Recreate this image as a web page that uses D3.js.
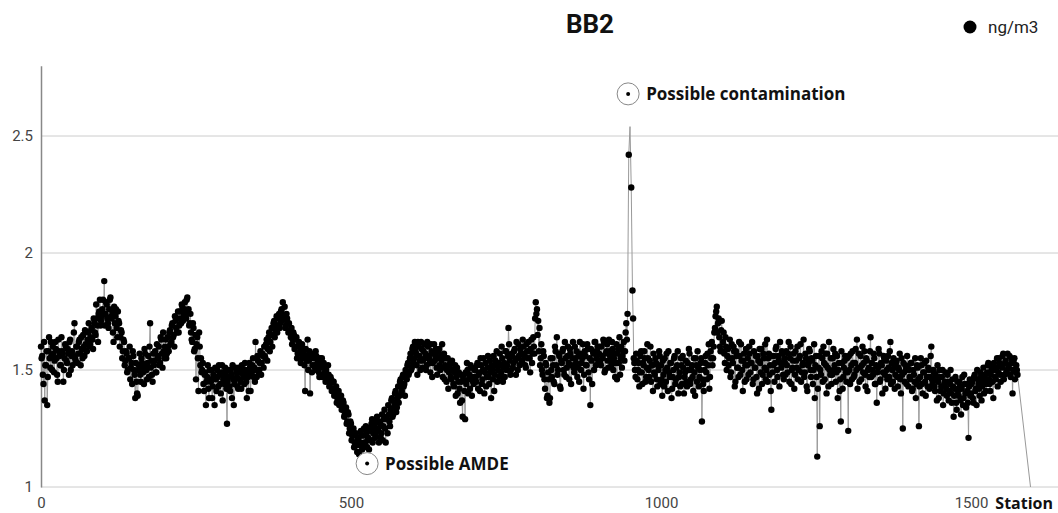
<!DOCTYPE html>
<html><head><meta charset="utf-8">
<script src="https://cdn.jsdelivr.net/npm/d3@7"></script>
<style>html,body{margin:0;padding:0;background:#fff;}svg{display:block;}</style>
</head><body><svg id="c" width="1058" height="513"></svg>
<script>
// BB2 concentration (ng/m3). Each segment covers 100 stations.
// "even" segments hold stations seg*100 + 0,2,4,...; "odd" segments hold seg*100 + 1,3,5,...
// null = no record at that station
const even00 = [1.60,1.56,1.44,1.37,1.52,1.35,1.58,1.55,1.62,1.50,1.57,1.54,1.59,1.48,1.63,1.56,1.52,1.58,1.45,1.55,1.60,1.53,1.57,1.62,1.50,1.58,1.56,1.70,1.54,1.60,1.57,1.63,1.52,1.59,1.65,1.56,1.61,1.58,1.66,1.60,1.64,1.68,1.59,1.70,1.65,1.72,1.62,1.75,1.69,1.73];
const even01 = [1.80,1.88,1.74,1.78,1.70,1.76,1.81,1.72,1.66,1.77,1.73,1.68,1.75,1.70,1.64,1.66,1.58,1.62,1.54,1.57,1.50,1.55,1.46,1.53,1.58,1.50,1.38,1.45,1.39,1.52,1.48,1.55,1.51,1.44,1.57,1.50,1.53,1.47,1.70,1.54,1.45,1.52,1.58,1.49,1.56,1.60,1.53,1.63,1.51,1.58];
const even02 = [1.60,1.55,1.64,1.58,1.67,1.62,1.70,1.65,1.73,1.68,1.72,1.66,1.75,1.70,1.77,1.74,1.79,1.72,1.81,1.76,1.70,1.66,1.62,1.68,1.59,1.46,1.64,1.41,1.60,1.55,1.50,1.44,1.48,1.35,1.47,1.42,1.50,1.45,1.38,1.48,1.35,1.46,1.50,1.43,1.48,1.40,1.52,1.46,1.44,1.49];
const even03 = [1.27,1.47,1.43,1.50,1.38,1.46,1.44,1.51,1.47,1.42,1.49,1.45,1.52,1.48,1.44,1.50,1.38,1.47,1.53,1.41,1.49,1.55,1.51,1.62,1.47,1.54,1.50,1.58,1.53,1.56,1.60,1.55,1.63,1.59,1.66,1.62,1.68,1.65,1.71,1.67,1.73,1.69,1.74,1.70,1.76,1.79,1.72,1.68,1.74,1.70];
const even04 = [1.70,1.66,1.68,1.63,1.65,1.60,1.64,1.57,1.62,1.58,1.60,1.55,1.58,1.41,1.56,1.63,1.54,1.40,1.57,1.52,1.55,1.51,1.56,1.53,1.49,1.55,1.51,1.47,1.53,1.49,1.50,1.46,1.48,1.44,1.46,1.42,1.45,1.40,1.43,1.38,1.41,1.37,1.39,1.34,1.36,1.31,1.34,1.28,1.31,1.25];
const even05 = [1.27,1.22,1.25,1.19,1.23,1.15,1.21,1.18,1.24,1.16,1.22,1.19,1.26,1.17,1.21,1.25,1.20,1.29,1.23,1.27,1.22,1.30,1.25,1.28,1.21,1.31,1.26,1.33,1.19,1.29,1.35,1.28,1.33,1.38,1.31,1.36,1.41,1.34,1.43,1.39,1.46,1.41,1.48,1.44,1.50,1.46,1.53,1.49,1.57,1.51];
const even06 = [1.60,1.55,1.58,1.52,1.62,1.56,1.50,1.59,1.54,1.61,1.57,1.52,1.60,1.55,1.49,1.58,1.53,1.61,1.56,1.51,1.55,1.59,1.50,1.54,1.47,1.57,1.52,1.45,1.55,1.49,1.53,1.46,1.50,1.43,1.52,1.47,1.40,1.49,1.36,1.45,1.30,1.48,1.29,1.44,1.50,1.46,1.42,1.51,1.47,1.44];
const even07 = [1.50,1.45,1.53,1.48,1.41,1.52,1.46,1.55,1.49,1.43,1.51,1.47,1.54,1.38,1.50,1.56,1.48,1.52,1.45,1.53,1.57,1.49,1.55,1.51,1.47,1.58,1.52,1.68,1.54,1.50,1.56,1.53,1.59,1.48,1.55,1.61,1.52,1.57,1.54,1.60,1.56,1.51,1.58,1.62,1.55,1.59,1.53,1.64,1.57,1.79];
const even08 = [1.76,1.71,1.68,1.55,1.50,1.58,1.46,1.53,1.38,1.49,1.36,1.55,1.47,1.52,1.44,1.58,1.64,1.50,1.56,1.42,1.53,1.59,1.48,1.55,1.51,1.60,1.46,1.57,1.52,1.62,1.49,1.55,1.58,1.51,1.45,1.57,1.53,1.61,1.48,1.56,1.52,1.59,1.46,1.35,1.54,1.58,1.50,1.62,1.55,1.60];
const even09 = [1.57,1.53,1.60,1.55,1.62,1.50,1.58,1.54,1.63,1.56,1.52,1.59,1.55,1.47,1.61,1.57,1.53,1.48,1.60,1.56,1.62,1.58,1.70,1.74,2.42,2.54,2.28,1.84,1.55,1.50,1.57,1.46,1.53,1.49,1.58,1.44,1.52,1.55,1.47,1.61,1.50,1.54,1.45,1.52,1.57,1.48,1.53,1.43,1.50,1.56];
const even10 = [1.52,1.39,1.48,1.55,1.45,1.51,1.58,1.47,1.53,1.42,1.50,1.56,1.46,1.52,1.40,1.49,1.55,1.44,1.51,1.47,1.54,1.43,1.50,1.57,1.46,1.52,1.41,1.49,1.55,1.45,1.51,1.47,1.53,1.28,1.44,1.50,1.56,1.46,1.52,1.42,1.58,1.62,1.55,1.66,1.73,1.77,1.70,1.64,1.58,1.71];
const even11 = [1.62,1.57,1.64,1.50,1.59,1.55,1.47,1.61,1.53,1.58,1.45,1.56,1.51,1.62,1.48,1.54,1.41,1.57,1.52,1.46,1.55,1.60,1.49,1.53,1.44,1.58,1.51,1.47,1.56,1.42,1.53,1.59,1.48,1.55,1.61,1.50,1.45,1.57,1.52,1.33,1.49,1.56,1.53,1.60,1.47,1.54,1.62,1.51,1.57,1.46];
const even12 = [1.53,1.58,1.49,1.62,1.55,1.44,1.51,1.57,1.48,1.54,1.60,1.50,1.56,1.45,1.52,1.63,1.49,1.55,1.41,1.53,1.58,1.47,1.54,1.50,1.38,1.56,1.13,1.51,1.26,1.48,1.55,1.60,1.46,1.52,1.57,1.43,1.50,1.55,1.48,1.59,1.52,1.45,1.56,1.50,1.41,1.28,1.53,1.47,1.54,1.49];
const even13 = [1.55,1.24,1.50,1.57,1.46,1.53,1.48,1.59,1.63,1.51,1.45,1.56,1.52,1.49,1.58,1.43,1.54,1.50,1.47,1.64,1.53,1.48,1.55,1.44,1.36,1.51,1.57,1.46,1.52,1.49,1.55,1.42,1.50,1.56,1.47,1.62,1.53,1.45,1.51,1.48,1.54,1.43,1.50,1.46,1.55,1.25,1.49,1.52,1.44,1.51];
const even14 = [1.50,1.46,1.53,1.42,1.48,1.55,1.44,1.51,1.26,1.47,1.52,1.40,1.49,1.45,1.54,1.43,1.50,1.47,1.60,1.44,1.49,1.41,1.46,1.52,1.38,1.47,1.43,1.50,1.40,1.45,1.42,1.48,1.37,1.44,1.40,1.46,1.30,1.42,1.36,1.45,1.39,1.43,1.31,1.47,1.38,1.44,1.34,1.41,1.21,1.46];
const even15 = [1.40,1.45,1.36,1.48,1.42,1.50,1.44,1.39,1.47,1.43,1.51,1.46,1.41,1.49,1.53,1.44,1.48,1.52,1.38,1.50,1.46,1.55,1.49,1.53,1.45,1.51,1.57,1.48,1.54,1.50,1.52,1.56,1.47,1.53,1.50,1.55,1.49,1.50];

const odd00 = [1.55,1.48,1.62,1.52,1.58,1.47,1.64,1.51,1.56,1.60,1.49,1.62,1.55,1.45,1.58,1.52,1.64,1.57,1.50,1.61,1.54,1.59,1.48,1.63,1.56,1.52,1.66,1.55,1.60,1.53,1.62,1.57,1.64,1.55,1.60,1.67,1.58,1.63,1.70,1.61,1.67,1.63,1.72,1.66,1.78,1.69,1.74,1.80,1.71,1.76];
const odd01 = [1.74,1.69,1.79,1.72,1.68,1.80,1.73,1.75,1.62,1.70,1.76,1.64,1.71,1.60,1.67,1.55,1.63,1.52,1.58,1.49,1.55,1.60,1.51,1.44,1.56,1.48,1.53,1.40,1.50,1.57,1.45,1.53,1.49,1.59,1.52,1.46,1.56,1.60,1.51,1.48,1.57,1.54,1.49,1.61,1.55,1.52,1.64,1.57,1.66,1.55];
const odd02 = [1.63,1.57,1.60,1.66,1.61,1.69,1.64,1.60,1.71,1.66,1.75,1.69,1.72,1.78,1.71,1.76,1.73,1.80,1.75,1.69,1.74,1.63,1.70,1.58,1.65,1.61,1.55,1.66,1.52,1.49,1.53,1.41,1.49,1.45,1.52,1.38,1.46,1.50,1.43,1.47,1.51,1.41,1.47,1.52,1.44,1.49,1.37,1.48,1.51,1.42];
const odd03 = [1.45,1.50,1.41,1.48,1.52,1.35,1.46,1.49,1.43,1.51,1.46,1.42,1.50,1.47,1.53,1.45,1.49,1.41,1.51,1.48,1.52,1.47,1.45,1.50,1.56,1.49,1.53,1.48,1.57,1.51,1.56,1.61,1.54,1.64,1.58,1.65,1.60,1.70,1.64,1.69,1.66,1.72,1.68,1.75,1.71,1.73,1.77,1.69,1.72,1.66];
const odd04 = [1.67,1.64,1.61,1.66,1.59,1.63,1.55,1.60,1.57,1.53,1.61,1.57,1.52,1.59,1.54,1.50,1.58,1.55,1.49,1.56,1.52,1.58,1.50,1.54,1.47,1.52,1.55,1.48,1.51,1.45,1.48,1.52,1.43,1.47,1.41,1.45,1.39,1.42,1.36,1.40,1.35,1.39,1.33,1.37,1.30,1.33,1.27,1.32,1.23,1.28];
const odd05 = [1.20,1.24,1.17,1.22,1.18,1.20,1.14,1.19,1.22,1.17,1.25,1.18,1.23,1.20,1.16,1.24,1.27,1.19,1.25,1.21,1.28,1.24,1.19,1.27,1.23,1.20,1.29,1.25,1.30,1.23,1.31,1.26,1.37,1.30,1.34,1.40,1.32,1.38,1.36,1.45,1.40,1.47,1.43,1.39,1.47,1.52,1.48,1.55,1.50,1.59];
const odd06 = [1.53,1.62,1.57,1.48,1.60,1.54,1.62,1.51,1.58,1.55,1.50,1.62,1.56,1.53,1.61,1.47,1.57,1.54,1.59,1.48,1.58,1.52,1.56,1.61,1.51,1.46,1.55,1.50,1.42,1.52,1.47,1.54,1.44,1.49,1.39,1.51,1.45,1.42,1.48,1.37,1.46,1.41,1.49,1.53,1.40,1.48,1.52,1.39,1.45,1.50];
const odd07 = [1.47,1.52,1.42,1.49,1.55,1.44,1.50,1.40,1.53,1.47,1.56,1.44,1.49,1.52,1.46,1.41,1.54,1.58,1.50,1.47,1.52,1.60,1.45,1.53,1.58,1.50,1.56,1.61,1.48,1.57,1.51,1.58,1.54,1.62,1.50,1.56,1.59,1.53,1.63,1.57,1.52,1.61,1.55,1.58,1.49,1.63,1.57,1.60,1.72,1.74];
const odd08 = [1.65,1.58,1.52,1.61,1.48,1.56,1.42,1.52,1.39,1.46,1.38,1.50,1.55,1.45,1.60,1.52,1.48,1.57,1.43,1.54,1.58,1.50,1.62,1.47,1.56,1.53,1.59,1.44,1.55,1.51,1.60,1.53,1.47,1.56,1.62,1.50,1.55,1.42,1.58,1.52,1.61,1.49,1.55,1.59,1.44,1.57,1.62,1.52,1.58,1.54];
const odd09 = [1.60,1.52,1.56,1.63,1.49,1.57,1.61,1.51,1.58,1.54,1.62,1.50,1.57,1.53,1.46,1.59,1.64,1.55,1.51,1.58,1.54,1.66,1.63,null,null,null,null,1.72,1.53,1.47,1.54,1.50,1.43,1.56,1.49,1.53,1.58,1.45,1.51,1.55,1.47,1.60,1.52,1.41,1.49,1.55,1.46,1.52,1.58,1.44];
const odd10 = [1.46,1.54,1.43,1.50,1.57,1.41,1.49,1.53,1.38,1.47,1.55,1.44,1.51,1.58,1.47,1.43,1.52,1.56,1.40,1.49,1.45,1.53,1.59,1.44,1.50,1.47,1.55,1.39,1.52,1.58,1.43,1.50,1.55,1.46,1.41,1.53,1.49,1.57,1.61,1.47,1.55,1.52,1.60,1.68,1.75,1.66,1.72,1.60,1.67,1.58];
const odd11 = [1.66,1.53,1.60,1.56,1.52,1.63,1.49,1.55,1.60,1.43,1.58,1.51,1.47,1.56,1.61,1.50,1.54,1.45,1.59,1.52,1.48,1.57,1.53,1.62,1.46,1.51,1.56,1.40,1.54,1.59,1.49,1.44,1.57,1.51,1.46,1.63,1.55,1.48,1.41,1.56,1.52,1.45,1.59,1.50,1.56,1.43,1.53,1.58,1.48,1.55];
const odd12 = [1.48,1.52,1.57,1.45,1.60,1.50,1.54,1.42,1.58,1.51,1.46,1.55,1.61,1.49,1.53,1.47,1.57,1.43,1.52,1.59,1.50,1.55,1.44,1.61,1.52,1.47,1.42,1.56,1.50,1.58,1.45,1.53,1.57,1.40,1.51,1.62,1.48,1.44,1.55,1.50,1.57,1.49,1.38,1.53,1.46,1.58,1.42,1.51,1.56,1.45];
const odd13 = [1.49,1.56,1.44,1.52,1.58,1.47,1.53,1.50,1.42,1.57,1.51,1.46,1.60,1.53,1.48,1.55,1.41,1.51,1.58,1.47,1.50,1.57,1.44,1.52,1.49,1.59,1.45,1.53,1.40,1.56,1.48,1.54,1.46,1.51,1.58,1.44,1.50,1.55,1.42,1.53,1.47,1.51,1.57,1.40,1.48,1.53,1.45,1.50,1.56,1.43];
const odd14 = [1.47,1.53,1.41,1.50,1.45,1.38,1.52,1.46,1.43,1.55,1.44,1.49,1.53,1.39,1.47,1.51,1.42,1.56,1.46,1.50,1.43,1.48,1.37,1.45,1.50,1.41,1.47,1.35,1.44,1.49,1.39,1.45,1.41,1.50,1.36,1.43,1.39,1.47,1.33,1.41,1.45,1.37,1.42,1.35,1.48,1.40,1.44,1.36,1.43,1.39];
const odd15 = [1.44,1.38,1.47,1.41,1.35,1.46,1.42,1.49,1.37,1.45,1.40,1.48,1.44,1.52,1.46,1.41,1.50,1.45,1.53,1.47,1.51,1.43,1.55,1.48,1.52,1.56,1.46,1.53,1.49,1.57,1.51,1.48,1.55,1.40,1.53,1.46,1.52,1.48];

// final record of the series (drawn in the line, no marker)
const endStation = [1596];
const endValue = [1.0];
// stations whose markers are not shown
const noMarker = [950];

const yTicks = [1, 1.5, 2, 2.5];
const xTicks = [0, 500, 1000, 1500];
const title = "BB2";
const legendLabel = "ng/m3";
const xLabel = "Station";
const annotStation = [947, 526];
const annotValue = [2.68, 1.10];
const annotText = ["Possible contamination", "Possible AMDE"];

const evens = [even00,even01,even02,even03,even04,even05,even06,even07,even08,even09,even10,even11,even12,even13,even14,even15];
const odds = [odd00,odd01,odd02,odd03,odd04,odd05,odd06,odd07,odd08,odd09,odd10,odd11,odd12,odd13,odd14,odd15];
let data = [];
evens.forEach((seg, si) => seg.forEach((v, i) => { if (v !== null) data.push({x: si*100 + i*2, y: v}); }));
odds.forEach((seg, si) => seg.forEach((v, i) => { if (v !== null) data.push({x: si*100 + i*2 + 1, y: v}); }));
endStation.forEach((s, i) => data.push({x: s, y: endValue[i], end: true}));
data.sort((a, b) => a.x - b.x);
const annotations = annotText.map((t, i) => ({station: annotStation[i], value: annotValue[i], text: t}));

const svg = d3.select("#c");
const x = d3.scaleLinear().domain([0, 1640]).range([41, 1057.8]);
const y = d3.scaleLinear().domain([1, 2.8]).range([487, 65.8]);

// gridlines
svg.append("g").selectAll("line").data(yTicks).join("line")
  .attr("x1", 41).attr("x2", 1058)
  .attr("y1", d => y(d)).attr("y2", d => y(d))
  .attr("stroke", "#cccccc").attr("stroke-width", 1);

// y axis
const yAxis = svg.append("g").attr("transform", "translate(41,0)")
  .call(d3.axisLeft(y).tickValues(yTicks).tickSize(0).tickPadding(8).tickFormat(d3.format("")));
yAxis.select(".domain").attr("stroke", "#888").attr("stroke-width", 1.5);
yAxis.selectAll("text").attr("font-family", "Roboto").attr("font-size", 15).attr("fill", "#444");

// x axis labels
const xAxis = svg.append("g").attr("transform", "translate(0,487)")
  .call(d3.axisBottom(x).tickValues(xTicks).tickSize(0).tickPadding(10).tickFormat(d3.format("")));
xAxis.select(".domain").remove();
xAxis.selectAll("text").attr("font-family", "Roboto").attr("font-size", 15).attr("fill", "#444");

svg.append("text").attr("x", 1053).attr("y", 509).attr("text-anchor", "end")
  .attr("font-family", "Open Sans").attr("font-weight", "bold").attr("font-size", 16)
  .attr("fill", "#111").text(xLabel);

// line
const line = d3.line().x(d => x(d.x)).y(d => y(d.y));
svg.append("path").datum(data).attr("d", line)
  .attr("fill", "none").attr("stroke", "#999").attr("stroke-width", 1);

// points
svg.append("g").selectAll("circle")
  .data(data.filter(d => !d.end && !noMarker.includes(d.x))).join("circle")
  .attr("cx", d => x(d.x)).attr("cy", d => y(d.y)).attr("r", 3.2).attr("fill", "#000");

// annotations
const ann = svg.append("g").selectAll("g").data(annotations).join("g")
  .attr("transform", d => `translate(${x(d.station)},${y(d.value)})`);
ann.append("circle").attr("r", 11).attr("fill", "#fff").attr("stroke", "#888").attr("stroke-width", 1);
ann.append("circle").attr("r", 2).attr("fill", "#000");
ann.append("text").attr("x", 18).attr("y", 6)
  .attr("font-family", "Open Sans").attr("font-weight", "bold").attr("font-size", 17)
  .attr("fill", "#111").text(d => d.text);

// title
svg.append("text").attr("x", 590).attr("y", 33).attr("text-anchor", "middle")
  .attr("font-family", "Roboto").attr("font-weight", "bold").attr("font-size", 26)
  .attr("fill", "#111").text(title);

// legend
svg.append("circle").attr("cx", 970).attr("cy", 27).attr("r", 6.5).attr("fill", "#000");
svg.append("text").attr("x", 988).attr("y", 33)
  .attr("font-family", "Roboto").attr("font-size", 17).attr("fill", "#222").text(legendLabel);
</script></body></html>
